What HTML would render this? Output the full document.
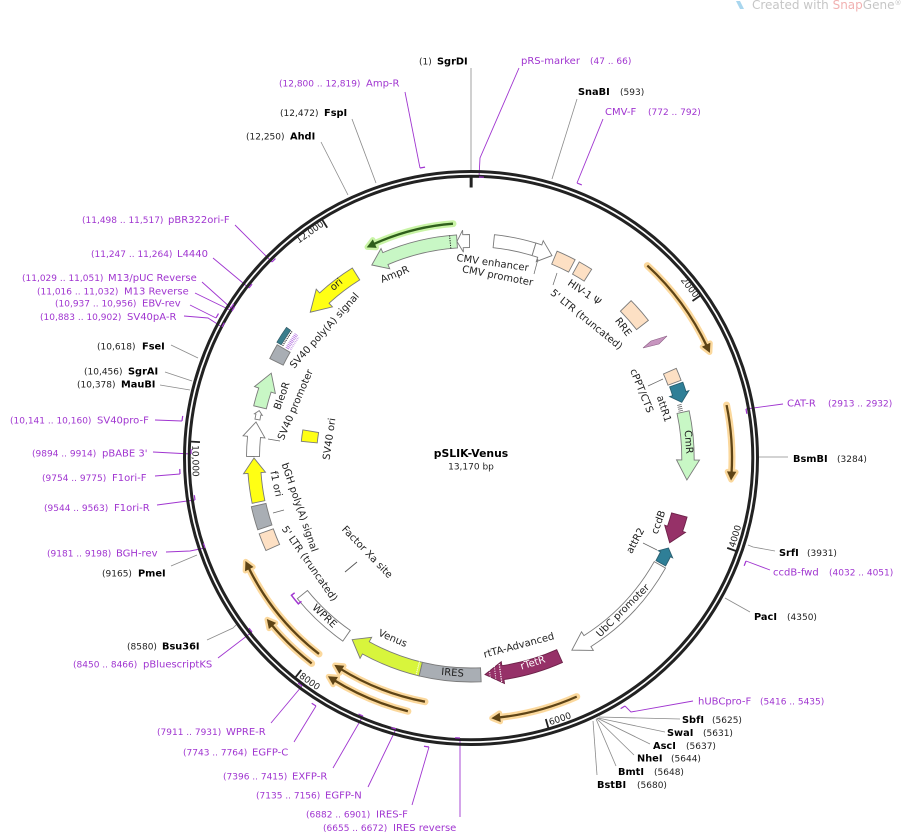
<!DOCTYPE html>
<html><head><meta charset="utf-8"><style>
html,body{margin:0;padding:0;background:#fff;}
svg{display:block;font-family:"DejaVu Sans","Liberation Sans",sans-serif;}
.n{font-size:9px;fill:#222;}
.e{font-size:9.8px;font-weight:bold;fill:#000;}
.p{font-size:10px;fill:#a035d0;}
.pn{font-size:9px;fill:#a035d0;}
.f{font-size:10px;fill:#222;text-anchor:middle;dominant-baseline:central;}
.t{font-size:9px;fill:#222;text-anchor:middle;dominant-baseline:central;}
</style></head><body>
<svg id="s" width="903" height="835" viewBox="0 0 903 835" xmlns="http://www.w3.org/2000/svg">
<rect width="903" height="835" fill="#fff"/>
<!-- watermark -->
<polygon points="736,1 740,1 744,9 740,9" fill="#a9d6ee"/>
<text x="752" y="9" font-size="12" fill="#c6c6c6">Created with <tspan fill="#f1b2b2">Snap</tspan>Gene<tspan font-size="7" dy="-4">®</tspan></text>

<!-- enzyme connector lines -->
<g stroke="#8a8a8a" stroke-width="0.8" fill="none">
<line x1="471" y1="68" x2="471" y2="171"/>
<line x1="577" y1="99" x2="552" y2="179"/>
<line x1="352" y1="119" x2="376" y2="183"/>
<line x1="321" y1="142" x2="348" y2="195"/>
<line x1="171" y1="345" x2="198" y2="358"/>
<line x1="165" y1="372" x2="192" y2="381"/>
<line x1="160" y1="385" x2="190" y2="390"/>
<line x1="171" y1="566" x2="197" y2="555"/>
<polyline points="207,640 233,628 237,624"/>
<line x1="788" y1="457" x2="759" y2="457"/>
<polyline points="775,551 753,547 748,545"/>
<line x1="750" y1="612" x2="725" y2="598"/>
<line x1="599" y1="717" x2="680" y2="719"/>
<line x1="598" y1="718" x2="665" y2="732"/>
<line x1="597" y1="718" x2="650" y2="744"/>
<line x1="596.5" y1="718.5" x2="634" y2="755"/>
<line x1="596" y1="719" x2="616" y2="766"/>
<line x1="593" y1="721" x2="597" y2="775"/>
</g>
<!-- primer connector lines -->
<g stroke="#a035d0" stroke-width="0.9" fill="none">
<polyline points="519,68 480,158 479,177"/>
<line x1="603" y1="119" x2="577" y2="183"/>
<line x1="405" y1="92" x2="420" y2="168"/>
<line x1="235" y1="225" x2="272" y2="262"/>
<line x1="213" y1="258" x2="249" y2="288"/>
<line x1="202" y1="282" x2="231" y2="308"/>
<line x1="195" y1="293" x2="232" y2="311"/>
<line x1="190" y1="305" x2="216" y2="318"/>
<polyline points="184,316 208,318 222,327"/>
<line x1="155" y1="420" x2="182" y2="421"/>
<line x1="153" y1="452" x2="191" y2="454"/>
<line x1="155" y1="476" x2="180" y2="474"/>
<line x1="157" y1="505" x2="195" y2="500"/>
<polyline points="166,552 190,551 205,548"/>
<line x1="218" y1="658" x2="252" y2="632"/>
<line x1="271" y1="723" x2="302" y2="686"/>
<line x1="294" y1="742" x2="316" y2="706"/>
<line x1="333" y1="768" x2="363" y2="716"/>
<line x1="368" y1="787" x2="396" y2="729"/>
<line x1="412" y1="805" x2="429" y2="747"/>
<line x1="460" y1="817" x2="460" y2="738"/>
<line x1="783" y1="404" x2="746" y2="409"/>
<line x1="770" y1="570" x2="746" y2="561"/>
<polyline points="693,701 631,712 625,706"/>
</g>

<!-- backbone -->
<circle cx="471" cy="458" r="286.5" fill="none" stroke="#222" stroke-width="3"/>
<circle cx="471" cy="458" r="281.8" fill="none" stroke="#222" stroke-width="3"/>
<g id="ticks"></g>
<g id="hooks"></g>
<g id="feat"></g>

<!-- tick labels -->
<text class="t" transform="translate(689,288) rotate(52)">2000</text>
<text class="t" transform="translate(310.4,232.9) rotate(-35.5)">12,000</text>
<text class="t" transform="translate(736.1,536.5) rotate(-73.5)">4000</text>
<text class="t" transform="translate(560.3,719.7) rotate(-18.8)">6000</text>
<text class="t" transform="translate(309.1,682.2) rotate(35.8)">8000</text>
<text class="t" transform="translate(194.5,461) rotate(89)">10,000</text>

<!-- small connectors for feature labels -->
<g stroke="#666" stroke-width="0.7">
<line x1="538" y1="259" x2="534" y2="274"/>
<line x1="557" y1="273" x2="553" y2="285"/>
<line x1="648" y1="386" x2="663" y2="379"/>
<line x1="643" y1="543" x2="657" y2="550"/>
<line x1="273" y1="513" x2="284" y2="510"/>
<line x1="268" y1="439" x2="280" y2="441"/>
<line x1="345" y1="572" x2="357" y2="562" stroke="#555" stroke-width="0.9"/>
</g>

<!-- feature labels -->
<text class="f" transform="translate(492.5,263.5) rotate(8)">CMV enhancer</text>
<text class="f" transform="translate(497.5,276.5) rotate(11)">CMV promoter</text>
<text class="f" transform="translate(584,293) rotate(34)">HIV-1 Ψ</text>
<text class="f" transform="translate(586,320) rotate(39)">5' LTR (truncated)</text>
<text class="f" transform="translate(622.7,327.3) rotate(53)">RRE</text>
<text class="f" transform="translate(641,391) rotate(68)">cPPT/CTS</text>
<text class="f" transform="translate(663.3,409) rotate(72)">attR1</text>
<text class="f" transform="translate(688,442) rotate(86)">CmR</text>
<text class="f" transform="translate(659,522.5) rotate(-70)">ccdB</text>
<text class="f" transform="translate(636,541) rotate(-62)">attR2</text>
<text class="f" transform="translate(623.3,611) rotate(-45)">UbC promoter</text>
<text class="f" transform="translate(519,646) rotate(-15)">rtTA-Advanced</text>
<text class="f" transform="translate(533,663.5) rotate(-17)" style="fill:#fff">rTetR</text>
<text class="f" transform="translate(452.5,673.3) rotate(5)">IRES</text>
<text class="f" transform="translate(392.5,639) rotate(23)">Venus</text>
<text class="f" transform="translate(324,616.5) rotate(43)">WPRE</text>
<text class="f" transform="translate(366.7,552.5) rotate(46)">Factor Xa site</text>
<text class="f" transform="translate(309,564) rotate(55)">5' LTR (truncated)</text>
<text class="f" transform="translate(299,507.5) rotate(71)">bGH poly(A) signal</text>
<text class="f" transform="translate(275.5,484) rotate(78)">f1 ori</text>
<text class="f" transform="translate(330,439) rotate(-82)">SV40 ori</text>
<text class="f" transform="translate(296,405) rotate(-67)">SV40 promoter</text>
<text class="f" transform="translate(282.5,396) rotate(-70)">BleoR</text>
<text class="f" transform="translate(325,331) rotate(-48)">SV40 poly(A) signal</text>
<text class="f" transform="translate(395,275) rotate(-22)">AmpR</text>
<text class="f" transform="translate(336.7,285) rotate(-40)">ori</text>

<!-- center -->
<text x="471" y="457" text-anchor="middle" font-size="10.8" font-weight="bold" fill="#000">pSLIK-Venus</text>
<text x="471" y="469.5" text-anchor="middle" font-size="9" fill="#222">13,170 bp</text>

<!-- outer labels: top -->
<text y="64.5"><tspan class="n" x="419">(1)</tspan><tspan class="e" x="437">SgrDI</tspan></text>
<text y="64"><tspan class="p" x="521">pRS-marker</tspan><tspan class="pn" x="590">(47 .. 66)</tspan></text>
<text y="86.5"><tspan class="pn" x="279">(12,800 .. 12,819)</tspan><tspan class="p" x="366">Amp-R</tspan></text>
<text y="95"><tspan class="e" x="578">SnaBI</tspan><tspan class="n" x="620">(593)</tspan></text>
<text y="115"><tspan class="p" x="605">CMV-F</tspan><tspan class="pn" x="648">(772 .. 792)</tspan></text>
<text y="116"><tspan class="n" x="280">(12,472)</tspan><tspan class="e" x="324">FspI</tspan></text>
<text y="139.5"><tspan class="n" x="246">(12,250)</tspan><tspan class="e" x="290">AhdI</tspan></text>
<!-- left -->
<text y="223"><tspan class="pn" x="82">(11,498 .. 11,517)</tspan><tspan class="p" x="168">pBR322ori-F</tspan></text>
<text y="257"><tspan class="pn" x="91">(11,247 .. 11,264)</tspan><tspan class="p" x="177">L4440</tspan></text>
<text y="281"><tspan class="pn" x="22">(11,029 .. 11,051)</tspan><tspan class="p" x="108">M13/pUC Reverse</tspan></text>
<text y="294.5"><tspan class="pn" x="37">(11,016 .. 11,032)</tspan><tspan class="p" x="124">M13 Reverse</tspan></text>
<text y="306.5"><tspan class="pn" x="55">(10,937 .. 10,956)</tspan><tspan class="p" x="142">EBV-rev</tspan></text>
<text y="320"><tspan class="pn" x="40">(10,883 .. 10,902)</tspan><tspan class="p" x="127">SV40pA-R</tspan></text>
<text y="349.5"><tspan class="n" x="97">(10,618)</tspan><tspan class="e" x="142">FseI</tspan></text>
<text y="374.5"><tspan class="n" x="84">(10,456)</tspan><tspan class="e" x="128">SgrAI</tspan></text>
<text y="387.5"><tspan class="n" x="77">(10,378)</tspan><tspan class="e" x="121">MauBI</tspan></text>
<text y="423.5"><tspan class="pn" x="10">(10,141 .. 10,160)</tspan><tspan class="p" x="97">SV40pro-F</tspan></text>
<text y="456.5"><tspan class="pn" x="32">(9894 .. 9914)</tspan><tspan class="p" x="102">pBABE 3'</tspan></text>
<text y="481"><tspan class="pn" x="42">(9754 .. 9775)</tspan><tspan class="p" x="112">F1ori-F</tspan></text>
<text y="511"><tspan class="pn" x="44">(9544 .. 9563)</tspan><tspan class="p" x="114">F1ori-R</tspan></text>
<text y="556.5"><tspan class="pn" x="47">(9181 .. 9198)</tspan><tspan class="p" x="116">BGH-rev</tspan></text>
<text y="576.5"><tspan class="n" x="102">(9165)</tspan><tspan class="e" x="138">PmeI</tspan></text>
<text y="649.5"><tspan class="n" x="127">(8580)</tspan><tspan class="e" x="162">Bsu36I</tspan></text>
<text y="667.5"><tspan class="pn" x="73">(8450 .. 8466)</tspan><tspan class="p" x="143">pBluescriptKS</tspan></text>
<!-- bottom -->
<text y="735"><tspan class="pn" x="157">(7911 .. 7931)</tspan><tspan class="p" x="226">WPRE-R</tspan></text>
<text y="755.5"><tspan class="pn" x="183">(7743 .. 7764)</tspan><tspan class="p" x="252">EGFP-C</tspan></text>
<text y="779.5"><tspan class="pn" x="223">(7396 .. 7415)</tspan><tspan class="p" x="292">EXFP-R</tspan></text>
<text y="798.5"><tspan class="pn" x="256">(7135 .. 7156)</tspan><tspan class="p" x="325">EGFP-N</tspan></text>
<text y="817.5"><tspan class="pn" x="306">(6882 .. 6901)</tspan><tspan class="p" x="376">IRES-F</tspan></text>
<text y="831"><tspan class="pn" x="323">(6655 .. 6672)</tspan><tspan class="p" x="393">IRES reverse</tspan></text>
<!-- right -->
<text y="406.5"><tspan class="p" x="787">CAT-R</tspan><tspan class="pn" x="828">(2913 .. 2932)</tspan></text>
<text y="462"><tspan class="e" x="793">BsmBI</tspan><tspan class="n" x="837">(3284)</tspan></text>
<text y="556"><tspan class="e" x="779">SrfI</tspan><tspan class="n" x="807">(3931)</tspan></text>
<text y="575.5"><tspan class="p" x="773">ccdB-fwd</tspan><tspan class="pn" x="829">(4032 .. 4051)</tspan></text>
<text y="620"><tspan class="e" x="754">PacI</tspan><tspan class="n" x="787">(4350)</tspan></text>
<text y="704.5"><tspan class="p" x="698">hUBCpro-F</tspan><tspan class="pn" x="760">(5416 .. 5435)</tspan></text>
<text y="723"><tspan class="e" x="682">SbfI</tspan><tspan class="n" x="712">(5625)</tspan></text>
<text y="736"><tspan class="e" x="667">SwaI</tspan><tspan class="n" x="703">(5631)</tspan></text>
<text y="749"><tspan class="e" x="653">AscI</tspan><tspan class="n" x="686">(5637)</tspan></text>
<text y="761.5"><tspan class="e" x="637">NheI</tspan><tspan class="n" x="671">(5644)</tspan></text>
<text y="775"><tspan class="e" x="618">BmtI</tspan><tspan class="n" x="654">(5648)</tspan></text>
<text y="788"><tspan class="e" x="597">BstBI</tspan><tspan class="n" x="637">(5680)</tspan></text>
</svg>
<script>
(function(){
var NS="http://www.w3.org/2000/svg",cx=471,cy=458,R2D=180/Math.PI;
var G=document.getElementById('feat');
function P(r,a){var t=a/R2D;return [cx+r*Math.sin(t),cy-r*Math.cos(t)];}
function pt(r,a){var p=P(r,a);return p[0].toFixed(2)+','+p[1].toFixed(2);}
function arc(r,a1,a2){var l=Math.abs(a2-a1)>180?1:0,s=a2>a1?1:0;return 'A'+r+','+r+' 0 '+l+' '+s+' '+pt(r,a2);}
function add(tag,at,g){var e=document.createElementNS(NS,tag);for(var k in at)e.setAttribute(k,at[k]);(g||G).appendChild(e);return e;}
function feat(a1,a2,rc,hw,dir,fill,o){o=o||{};var hh=o.hh||hw+4.5,hl=o.hl||15,hd=hl/rc*R2D,d,b;
 if(dir===1){b=Math.max(a1,a2-hd);d='M'+pt(rc+hw,a1)+' '+arc(rc+hw,a1,b)+' L'+pt(rc+hh,b)+' L'+pt(rc,a2)+' L'+pt(rc-hh,b)+' L'+pt(rc-hw,b)+' '+arc(rc-hw,b,a1)+' Z';}
 else if(dir===-1){b=Math.min(a2,a1+hd);d='M'+pt(rc,a1)+' L'+pt(rc+hh,b)+' L'+pt(rc+hw,b)+' '+arc(rc+hw,b,a2)+' L'+pt(rc-hw,a2)+' '+arc(rc-hw,a2,b)+' L'+pt(rc-hh,b)+' Z';}
 else d='M'+pt(rc+hw,a1)+' '+arc(rc+hw,a1,a2)+' L'+pt(rc-hw,a2)+' '+arc(rc-hw,a2,a1)+' Z';
 return add('path',{d:d,fill:fill,stroke:o.st||'#7a7a7a','stroke-width':o.sw||0.9,'stroke-linejoin':'miter'});}
function rline(a,r1,r2,st,sw,da,g){var p1=P(r1,a),p2=P(r2,a);return add('line',{x1:p1[0],y1:p1[1],x2:p2[0],y2:p2[1],stroke:st,'stroke-width':sw,'stroke-dasharray':da||'none'},g);}
function arcs(r,a1,a2,st,sw,da){return add('path',{d:'M'+pt(r,a1)+' '+arc(r,a1,a2),fill:'none',stroke:st,'stroke-width':sw,'stroke-dasharray':da||'none'});}
function orf(r,a1,a2,dir,glow,line){var hd=8/r*R2D,s,e,tip,base;
 if(dir===1){s=a1;tip=a2;base=a2-hd;e=base+hd*0.3;}else{s=a2;tip=a1;base=a1+hd;e=base-hd*0.3;}
 var d='M'+pt(r,s)+' '+arc(r,s,e);var hp='M'+pt(r,tip)+' L'+pt(r+4.2,base)+' L'+pt(r-4.2,base)+' Z';
 add('path',{d:d,fill:'none',stroke:glow,'stroke-width':7,'stroke-linecap':'round'});
 add('path',{d:hp,fill:glow,stroke:glow,'stroke-width':5.5,'stroke-linejoin':'round'});
 add('path',{d:d,fill:'none',stroke:line,'stroke-width':2.3});
 add('path',{d:hp,fill:line,stroke:line,'stroke-width':0.6});}

/* ticks */
var T=document.getElementById('ticks');
rline(0.03,270.5,283,'#222',3,null,T);
[2000,4000,6000,8000,10000,12000].forEach(function(p){rline(p/13170*360,271.5,282,'#222',1.8,null,T);});

/* primer hooks */
var H=document.getElementById('hooks');
[[479,177],[577,183],[420,168],[272,262],[249,288],[231,308],[232,311],[216,318],[222,327],[182,421],[191,454],[180,474],[195,500],[205,548],[252,632],[302,686],[316,706],[363,716],[396,729],[429,747],[460,738],[746,409],[746,561],[625,706]].forEach(function(q){
 var a=Math.atan2(q[0]-cx,cy-q[1])*R2D,r=Math.hypot(q[0]-cx,q[1]-cy);
 var p=P(r,a+1.0);add('line',{x1:q[0],y1:q[1],x2:p[0],y2:p[1],stroke:'#a035d0','stroke-width':1.2},H);});

var OG='#fbd89c',OL='#5e4416';
orf(235,333.8,355.6,-1,'#c9f4a6','#2f5f1c');
orf(261,42.5,66.1,1,OG,OL);
orf(261,78.3,94.8,1,OG,OL);
orf(261,156.1,175.4,1,OG,OL);
orf(261,194.0,213.1,1,OG,OL);
orf(248,190.7,213.3,1,OG,OL);
orf(260,217.8,231.6,1,OG,OL);
orf(248,217.8,245.3,1,OG,OL);

var MINT='#c8f7c5',PEACH='#fde0c4',GRAY='#a9aeb4',MAR='#963168',TEAL='#2f7f97',YEL='#ffff14',VEN='#d8f53c',WH='#ffffff';
feat(332.8,356.3,217,6.5,-1,MINT,{hh:11,hl:15});
rline(354.5,210.5,223.5,'#222',1,'1.2 1.2');
feat(356.3,359.6,217,6.5,-1,WH,{hh:11,hl:6});
feat(6.0,16.8,218,6.5,0,WH);
feat(16.8,21.8,218,6.5,1,WH,{hh:11,hl:13});
feat(22.6,27.7,217,7,0,PEACH);
feat(28.9,32.6,217,7,0,PEACH);
feat(45.5,52.2,217,7.5,0,PEACH);
feat(66.4,69.7,217,7,0,PEACH);
feat(70.3,75.2,218,7,1,TEAL,{hh:10,hl:9,st:'#2a5f70'});
arcs(215,75.6,78.2,'#666',4.5,'0.8 1.2');
feat(77.8,95.8,217,6.2,1,MINT,{hh:11.5,hl:20});
feat(105.3,113.1,216,8,1,MAR,{hh:11,hl:15,st:'#6d2249'});
feat(114.5,119,217,5.5,-1,TEAL,{hh:8,hl:7,st:'#2a5f70'});
feat(119.5,152.3,217,6.5,1,WH,{hh:11,hl:18});
feat(155.9,176.3,217,7,1,MAR,{hh:11,hl:18,st:'#6d2249'});
rline(172.2,208,226,'#fff',1.2,'1.2 1.2');
rline(173.6,209.5,224.5,'#fff',1,'1 1.3');
rline(175.0,212.5,221.5,'#fff',1,'1 1.3');
feat(177.4,193.4,217,7,0,GRAY);
feat(193.4,213.2,217,7,1,VEN,{hh:12,hl:16});
rline(194.2,210,224,'#fff',1.2,'1 1');
feat(215,231,217,6.5,0,WH);
add('path',{d:'M'+pt(222,229.8)+' L'+pt(226,229.8)+' '+arc(226,229.8,232.6)+' L'+pt(222,232.6),fill:'none',stroke:'#a035d0','stroke-width':1.5});
feat(245.7,250.3,217.5,7.5,0,PEACH);
feat(251.4,257.5,217.5,7.5,0,GRAY);
feat(258.3,270,217,6.5,1,YEL,{hh:11,hl:15});
feat(270.4,279.5,218,6.5,1,WH,{hh:11,hl:15});
feat(280.2,282.6,217,2.5,1,WH,{hh:4,hl:4});
feat(283.5,293,217,6.5,1,MINT,{hh:11,hl:18});
feat(296.3,300.3,217,7.5,0,GRAY);
feat(300.8,305.3,223.5,2.6,0,'#3a7d8c',{st:'#2f5560',sw:0.6});
arcs(219.2,300.8,305.3,'#222',1.2,'1 1');
arcs(214,300.8,305.3,'#b26fe0',4,'0.8 1');
arcs(210.5,301,305,'#c9a0e8',2,'0.8 1');
feat(312.2,328,217,7,-1,YEL,{hh:12,hl:20});
feat(275.6,279.5,162.5,8,0,YEL);
add('polygon',{points:'643,348 651,341 667,336 659,344',fill:'#c795bf',stroke:'#8a5d84','stroke-width':0.6});
})();
</script>
</body></html>
